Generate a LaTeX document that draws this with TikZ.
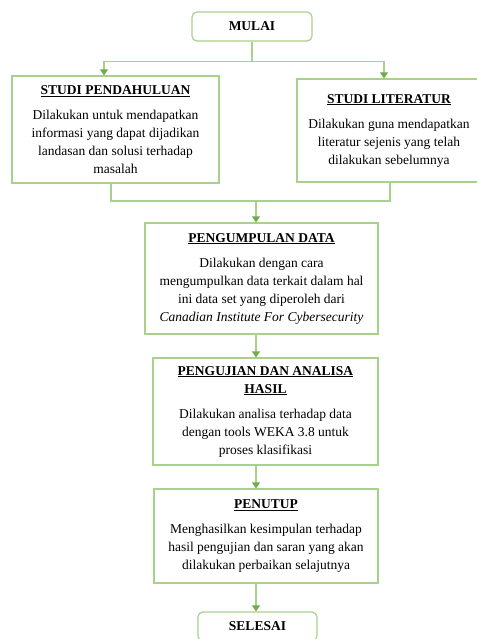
\documentclass[tikz,border=0pt]{standalone}
\usepackage{fontspec}
\setmainfont{Liberation Serif}
\usetikzlibrary{arrows.meta}

\definecolor{boxgreen}{HTML}{A9D18E}
\definecolor{tipgreen}{HTML}{70AD47}

\tikzset{
    stepbox/.style={draw=boxgreen, line width=1.2pt, align=center, inner sep=3pt,
        font=\fontsize{13.5}{18}\selectfont},
    endbox/.style={stepbox, rounded corners=5pt, font=\bfseries\fontsize{13.5}{18}\selectfont},
    link/.style={draw=boxgreen, line width=1.2pt},
    flow/.style={link, -{Triangle[length=6pt,width=8pt,color=tipgreen]}}
}

\begin{document}
\begin{tikzpicture}[x=1pt,y=-1pt]
        \useasboundingbox (0,0) rectangle (476,639);

        \node[endbox, minimum width=120pt, minimum height=29pt] (mulai) at (252,26.5) {MULAI};

        \node[stepbox, minimum width=207pt, minimum height=107pt] (pendahuluan) at (115.5,129.5)
            {\textbf{\underline{STUDI PENDAHULUAN}}\\[7pt]
             Dilakukan untuk mendapatkan\\ informasi yang dapat dijadikan\\
             landasan dan solusi terhadap\\ masalah};

        \node[stepbox, minimum width=184pt, minimum height=103pt] (literatur) at (389,130.5)
            {\textbf{\underline{STUDI LITERATUR}}\\[7pt]
             Dilakukan guna mendapatkan\\ literatur sejenis yang telah\\
             dilakukan sebelumnya};

        \node[stepbox, minimum width=233pt, minimum height=111pt] (data) at (261.5,278.5)
            {\textbf{\underline{PENGUMPULAN DATA}}\\[7pt]
             Dilakukan dengan cara\\ mengumpulkan data terkait dalam hal\\
             ini data set yang diperoleh dari\\ \textit{Canadian Institute For Cybersecurity}};

        \node[stepbox, minimum width=225pt, minimum height=107pt] (pengujian) at (265.5,411.5)
            {\textbf{\underline{PENGUJIAN DAN ANALISA}}\\ \textbf{\underline{HASIL}}\\[7pt]
             Dilakukan analisa terhadap data\\ dengan tools WEKA 3.8 untuk\\
             proses klasifikasi};

        \node[stepbox, minimum width=224pt, minimum height=94pt] (penutup) at (266,536)
            {\textbf{\underline{PENUTUP}}\\[7pt]
             Menghasilkan kesimpulan terhadap\\ hasil pengujian dan saran yang akan\\
             dilakukan perbaikan selajutnya};

        \node[endbox, minimum width=119pt, minimum height=29pt] (selesai) at (257.5,626.5) {SELESAI};

        % cabang dari mulai
        \draw[flow] (mulai.south) -- ++(0,20) -| ([xshift=-11.5pt]pendahuluan.north);
        \draw[flow] (mulai.south) -- ++(0,20) -| ([xshift=-5pt]literatur.north);

        % gabungan ke pengumpulan data
        \coordinate (merge) at (256,201);
        \draw[link] ([xshift=-4.5pt]pendahuluan.south) |- (merge) -| ([xshift=1pt]literatur.south);
        \draw[flow] (merge) -- (data.north -| merge);

        \draw[flow] (data.south -| merge) -- (pengujian.north -| merge);
        \draw[flow] (pengujian.south -| merge) -- (penutup.north -| merge);
        \draw[flow] (penutup.south -| merge) -- (selesai.north -| merge);
    \end{tikzpicture}
\end{document}
